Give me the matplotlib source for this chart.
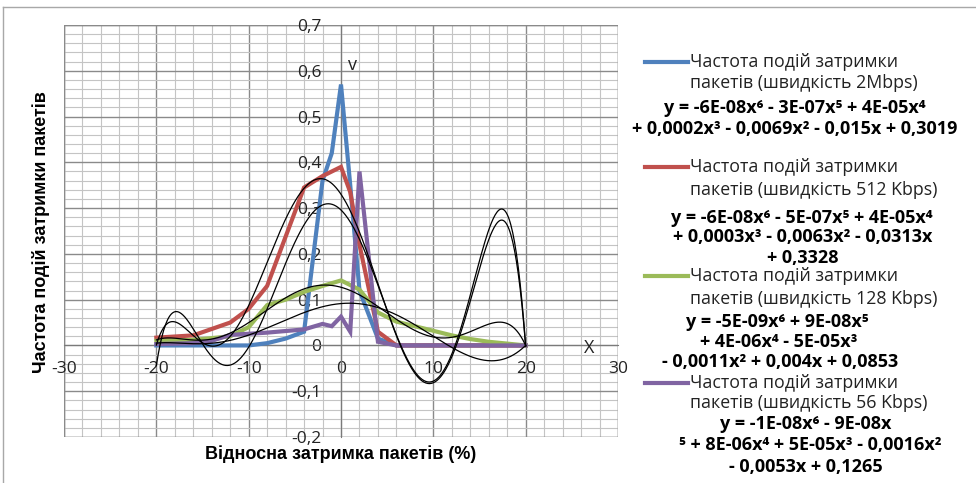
import numpy as np
import matplotlib.pyplot as plt
from matplotlib.lines import Line2D
from matplotlib.patches import Rectangle

plt.rcParams['font.family'] = ['Open Sans', 'DejaVu Sans']
plt.rcParams['axes.unicode_minus'] = False

# series
blue_x = [-20, -16, -12, -10, -8, -6, -4, -2, -1, 0, 1, 2, 4, 6, 8, 12, 16, 20]
blue_y = [0, 0, 0, 0, 0.005, 0.015, 0.03, 0.36, 0.42, 0.57, 0.35, 0.12, 0.015, 0, 0, 0, 0, 0]

red_x = [-20, -16, -12, -10, -8, -4, -2, 0, 1, 2, 4, 6, 8, 12, 16, 20]
red_y = [0.017, 0.022, 0.05, 0.08, 0.13, 0.345, 0.37, 0.39, 0.335, 0.22, 0.03, 0.0, 0, 0, 0, 0]

green_x = [-20, -16, -12, -10, -8, -6, -4, -2, 0, 2, 4, 6, 8, 10, 12, 14, 16, 18, 20]
green_y = [0.01, 0.012, 0.02, 0.04, 0.088, 0.1, 0.117, 0.13, 0.142, 0.122, 0.072, 0.052, 0.042,
           0.032, 0.022, 0.014, 0.008, 0.004, 0.0]

purple_x = [-20, -16, -14, -12, -8, -4, -2, -1, 0, 1, 2, 4, 6, 8, 12, 16, 20]
purple_y = [0.003, 0.005, 0.01, 0.023, 0.028, 0.035, 0.047, 0.042, 0.063, 0.03, 0.38, 0.008,
            0, 0, 0, 0, 0]

# trendlines (6th order)
trend_x = [-20, -19, -18, -17, -16, -14, -12, -10, -8, -6, -4, -2, 0, 2, 4, 6, 8, 10, 12, 14,
           16, 17, 18, 19, 20]
trend_blue = [-0.045, 0.055, 0.09, 0.07, 0.03, -0.035, -0.048, -0.01, 0.08, 0.19, 0.27, 0.305,
              0.30, 0.24, 0.12, 0.01, -0.065, -0.077, -0.01, 0.13, 0.26, 0.29, 0.27, 0.17, 0.0]
trend_red = [0.0, 0.045, 0.062, 0.055, 0.03, -0.005, 0.0, 0.045, 0.2, 0.3, 0.355, 0.372,
             0.345, 0.24, 0.1, -0.005, -0.05, -0.064, -0.01, 0.11, 0.23, 0.26, 0.25, 0.16, 0.0]
trend_green = [0.005, 0.006, 0.006, 0.005, 0.004, 0.004, 0.01, 0.022, 0.04, 0.058, 0.072, 0.083,
               0.088, 0.09, 0.085, 0.07, 0.045, 0.02, -0.005, -0.025, -0.035, -0.033, -0.025,
               -0.013, 0.0]
trend_purple = [0.012, 0.015, 0.016, 0.016, 0.015, 0.014, 0.022, 0.045, 0.08, 0.108, 0.125, 0.133,
                0.127, 0.11, 0.082, 0.055, 0.032, 0.02, 0.02, 0.032, 0.048, 0.05, 0.045, 0.028, 0.0]

names = ['пакетів (швидкість 2Mbps)', 'пакетів (швидкість 512 Kbps)',
         'пакетів (швидкість 128 Kbps)', 'пакетів (швидкість 56 Kbps)']
equations = [
    ['y = -6E-08x⁶ - 3E-07x⁵ + 4E-05x⁴', '+ 0,0002x³ - 0,0069x² - 0,015x + 0,3019'],
    ['y = -6E-08x⁶ - 5E-07x⁵ + 4E-05x⁴', '+ 0,0003x³ - 0,0063x² - 0,0313x', '+ 0,3328'],
    ['y = -5E-09x⁶ + 9E-08x⁵', '+ 4E-06x⁴ - 5E-05x³', '- 0,0011x² + 0,004x + 0,0853'],
    ['y = -1E-08x⁶ - 9E-08x', '⁵ + 8E-06x⁴ + 5E-05x³ - 0,0016x²', '- 0,0053x + 0,1265'],
]
colors = ['#4F81BD', '#C0504D', '#9BBB59', '#8064A2']

W, H = 976, 483
fig = plt.figure(figsize=(W / 100, H / 100), dpi=100)
ax = fig.add_axes([64 / W, 1 - 437 / H, 554 / W, 412 / H])

ax.set_xlim(-30, 30)
ax.set_ylim(-0.2, 0.7)

# grid
for v in np.arange(-30, 31, 2):
    major = v % 10 == 0
    ax.axvline(v, color='#8a8a8a' if major else '#c4c4c4', lw=1.0 if major else 0.8, zorder=0)
for v in np.arange(-0.2, 0.701, 0.02):
    major = abs(v * 10 - round(v * 10)) < 1e-6
    ax.axhline(v, color='#8a8a8a' if major else '#c4c4c4', lw=1.0 if major else 0.8, zorder=0)

ax.spines['top'].set_visible(False)
ax.spines['right'].set_visible(False)
ax.spines['left'].set_position(('data', 0))
ax.spines['bottom'].set_position(('data', 0))
ax.spines['left'].set_color('#7a7a7a')
ax.spines['bottom'].set_color('#7a7a7a')
ax.add_patch(Rectangle((0, 0), 1, 1, transform=ax.transAxes, fill=False,
                       ec='#8a8a8a', lw=1.0, zorder=1))

ax.set_xticks(np.arange(-30, 31, 10))
ax.set_yticks(np.arange(-0.2, 0.701, 0.1))
ax.set_yticklabels(['0' if abs(v) < 1e-9 else f'{v:.1f}'.replace('.', ',')
                    for v in np.arange(-0.2, 0.701, 0.1)])
ax.tick_params(axis='both', length=0, labelsize=12.5, colors='#222222')
ax.tick_params(axis='y', pad=14)
ax.tick_params(axis='x', pad=11)

for xs, ys, c in zip([blue_x, red_x, green_x, purple_x], [blue_y, red_y, green_y, purple_y], colors):
    ax.plot(xs, ys, color=c, lw=3, zorder=3, solid_joinstyle='miter')

# 6th order trendlines, end points weighted a little more
xf = np.linspace(-20, 20, 400)
wts = np.ones(len(trend_x))
wts[0] = wts[-1] = 4
for ty in [trend_blue, trend_red, trend_green, trend_purple]:
    p = np.polyfit(trend_x, ty, 6, w=wts)
    ax.plot(xf, np.polyval(p, xf), color='black', lw=0.9, zorder=4)

ax.text(0.8, 0.613, 'v', fontsize=13, color='#222222', va='center')
ax.text(26.3, -0.005, 'X', fontsize=13, color='#222222', va='center')

fig.text(41 / W, 1 - 232 / H, 'Частота подій затримки пакетів', rotation=90,
         fontsize=13, fontweight='bold', family=['Liberation Sans', 'DejaVu Sans'],
         ha='center', va='center')
fig.text(341 / W, 1 - 454 / H, 'Відносна затримка пакетів (%)',
         fontsize=13, fontweight='bold', family=['Liberation Sans', 'DejaVu Sans'],
         ha='center', va='center')

# chart area border
fig.add_artist(Line2D([3 / W, 3 / W], [0, 1 - 6.5 / H], color='#a8a8a8', lw=1))
fig.add_artist(Line2D([3 / W, 1], [1 - 6.5 / H, 1 - 6.5 / H], color='#a8a8a8', lw=1))

# legend
entry_y = [62, 167, 276, 383]
name_dy = [21, 23, 23, 20]
eq_pos = [
    [(795, 108), (795, 129)],
    [(802, 218), (803, 237), (803, 258)],
    [(777, 322), (779, 342), (780, 362)],
    [(806, 424), (810, 445), (806, 467)],
]
for i in range(4):
    y0 = entry_y[i]
    fig.add_artist(Line2D([645 / W, 688 / W], [1 - y0 / H, 1 - y0 / H], color=colors[i], lw=3))
    fig.text(690 / W, 1 - y0 / H, 'Частота подій затримки', fontsize=12.8, color='#222222',
             ha='left', va='center')
    fig.text(690 / W, 1 - (y0 + name_dy[i]) / H, names[i], fontsize=12.8, color='#222222',
             ha='left', va='center')
    for line, (px, py) in zip(equations[i], eq_pos[i]):
        fig.text(px / W, 1 - py / H, line, fontsize=13, fontweight='bold', color='black',
                 ha='center', va='center')

fig.savefig('out.png', dpi=100)
